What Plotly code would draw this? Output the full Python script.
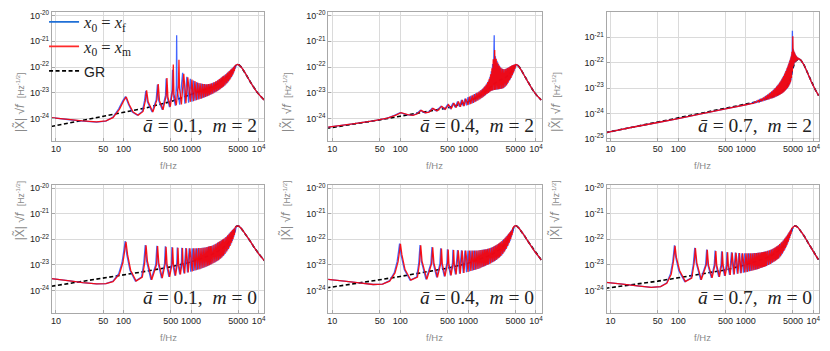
import plotly.graph_objects as go
from plotly.subplots import make_subplots

# ---------------- panel 1 : a=0.1, m=2 ----------------
P1_F_LOW_BLUE = [8.5, 15, 25, 40, 55, 70, 85, 98, 107, 118, 135, 160, 190, 205, 214, 226, 265, 305, 318, 332,
                 375, 418, 428, 442, 480, 522, 532, 545, 585, 606, 612, 620, 680, 750, 810, 865, 920]
P1_Y_LOW_BLUE = [1.1e-24, 9.3e-25, 8.1e-25, 7.4e-25, 8.1e-25, 1.15e-24, 2.4e-24, 5e-24, 7.2e-24, 3.7e-24,
                 1.8e-24, 1.35e-24, 1.9e-24, 5e-24, 1.2e-23, 4.5e-24, 1.8e-24, 5.5e-24, 2.1e-23, 5e-24,
                 2.2e-24, 8e-24, 3.6e-23, 7e-24, 2.8e-24, 1.2e-23, 7.9e-23, 8e-24, 3.2e-24, 2e-23,
                 1.7e-21, 1.5e-23, 3.5e-24, 6e-23, 3.8e-24, 4.2e-23, 4.2e-24]
P1_F_LOW_RED = [8.5, 15, 25, 40, 55, 70, 87, 101, 110, 121, 139, 165, 195, 211, 220, 232, 272, 313, 327, 341,
                385, 429, 440, 454, 493, 535, 546, 558, 605, 650, 662, 675, 720, 780, 840, 895]
P1_Y_LOW_RED = [1.1e-24, 9.4e-25, 8.2e-25, 7.5e-25, 8.2e-25, 1.1e-24, 2.3e-24, 5e-24, 7e-24, 3.6e-24,
                1.8e-24, 1.35e-24, 1.9e-24, 5e-24, 1.25e-23, 4.5e-24, 1.8e-24, 5.5e-24, 2.2e-23, 5e-24,
                2.2e-24, 8e-24, 3.8e-23, 7e-24, 2.9e-24, 1.4e-23, 1.25e-22, 9e-24, 3.3e-24, 2e-23,
                1.9e-22, 1.5e-23, 3.6e-24, 5.5e-23, 4e-24, 4e-23]
P1_F_BAND = [975, 1030, 1085, 1140, 1195, 1250, 1305, 1360, 1415, 1470, 1525, 1580, 1635, 1690, 1745, 1800,
             1855, 1910, 1965, 2020, 2095, 2170, 2245, 2320, 2395, 2470, 2545, 2620, 2695, 2770, 2845, 2920,
             2995, 3070, 3170, 3270, 3370, 3470, 3570, 3670, 3770, 3870, 3970, 4070, 4170, 4270, 4370, 4470]
P1_Y_UPPER = [3.5e-23, 3.3e-23, 3.0e-23, 2.9e-23, 2.6e-23, 2.5e-23, 2.4e-23, 2.35e-23, 2.3e-23, 2.25e-23,
              2.2e-23, 2.2e-23, 2.15e-23, 2.15e-23, 2.15e-23, 2.2e-23, 2.2e-23, 2.25e-23, 2.3e-23, 2.35e-23,
              2.45e-23, 2.55e-23, 2.65e-23, 2.8e-23, 2.9e-23, 3.05e-23, 3.2e-23, 3.4e-23, 3.6e-23, 3.8e-23,
              4.0e-23, 4.25e-23, 4.5e-23, 4.7e-23, 5.0e-23, 5.3e-23, 5.7e-23, 6.1e-23, 6.5e-23, 7.0e-23,
              7.5e-23, 8.0e-23, 8.5e-23, 9.0e-23, 9.6e-23, 1.02e-22, 1.08e-22, 1.12e-22]
P1_Y_LOWER = [4.5e-24, 4.6e-24, 4.8e-24, 5.0e-24, 5.2e-24, 5.4e-24, 5.6e-24, 5.8e-24, 6.0e-24, 6.2e-24,
              6.5e-24, 6.7e-24, 7.0e-24, 7.2e-24, 7.5e-24, 7.7e-24, 8.0e-24, 8.3e-24, 8.6e-24, 8.9e-24,
              9.3e-24, 9.8e-24, 1.03e-23, 1.08e-23, 1.14e-23, 1.2e-23, 1.26e-23, 1.33e-23, 1.4e-23, 1.48e-23,
              1.56e-23, 1.64e-23, 1.72e-23, 1.8e-23, 1.95e-23, 2.1e-23, 2.3e-23, 2.5e-23, 2.75e-23, 3.0e-23,
              3.3e-23, 3.7e-23, 4.1e-23, 4.6e-23, 5.2e-23, 6.0e-23, 7.0e-23, 8.5e-23]
P1_F_TAIL = [4650, 4850, 5100, 5500, 6000, 6700, 7500, 8500, 9500, 10800, 12300]
P1_Y_TAIL = [1.2e-22, 1.26e-22, 1.22e-22, 1.02e-22, 7.4e-23, 4.5e-23, 2.7e-23, 1.6e-23, 1.05e-23, 7.2e-24, 5e-24]
P1_F_GR = [8.5, 20, 50, 100, 200, 500, 1000, 1500, 2000, 2500, 3000, 3500, 4000, 4400]
P1_Y_GR = [5e-25, 7.8e-25, 1.2e-24, 1.7e-24, 2.5e-24, 4.6e-24, 8.5e-24, 1.2e-23, 1.65e-23, 2.3e-23, 3.2e-23,
           4.5e-23, 6.8e-23, 9.8e-23]

# ---------------- panel 2 : a=0.4, m=2 ----------------
P2_F_LOW_BLUE = [8.2, 20, 40, 65, 82, 100, 125, 150, 175, 198, 230, 260, 295, 340, 398, 450, 500, 550, 600,
                 650, 700, 750, 800, 850, 900, 950]
P2_Y_LOW_BLUE = [4.6e-25, 6.3e-25, 8.3e-25, 1.05e-24, 1.35e-24, 1.7e-24, 1.45e-24, 1.35e-24, 1.55e-24, 2.1e-24,
                 1.7e-24, 1.8e-24, 2.5e-24, 2e-24, 3e-24, 2.3e-24, 3.5e-24, 2.5e-24, 4e-24, 2.7e-24,
                 4.6e-24, 2.9e-24, 5.3e-24, 3.1e-24, 6e-24, 3.3e-24]
P2_F_LOW_RED = [8.2, 20, 40, 65, 85, 103, 129, 155, 180, 204, 237, 268, 304, 350, 410, 463, 515, 567, 618,
                670, 721, 773, 824, 876, 927]
P2_Y_LOW_RED = [4.6e-25, 6.3e-25, 8.3e-25, 1.05e-24, 1.35e-24, 1.7e-24, 1.45e-24, 1.35e-24, 1.55e-24, 2.1e-24,
                1.7e-24, 1.8e-24, 2.5e-24, 2e-24, 3e-24, 2.3e-24, 3.5e-24, 2.5e-24, 4e-24, 2.7e-24,
                4.6e-24, 2.9e-24, 5.3e-24, 3.1e-24, 6e-24]
P2_F_BAND = [1000, 1050, 1100, 1150, 1200, 1250, 1300, 1350, 1400, 1450, 1500, 1550, 1600, 1650, 1700, 1750,
             1800, 1850, 1900, 1950, 2000, 2050, 2100, 2150, 2200, 2250, 2300, 2350, 2430, 2470, 2530, 2600,
             2670, 2740, 2810, 2880, 2950, 3030, 3120, 3210, 3300, 3400, 3500, 3600, 3700, 3800, 3900, 4000,
             4100, 4200, 4300, 4400, 4500, 4600, 4700, 4800, 4900, 5000]
P2_Y_UPPER = [6.8e-24, 7.2e-24, 7.6e-24, 8.0e-24, 8.5e-24, 9.0e-24, 9.5e-24, 1.0e-23, 1.06e-23, 1.12e-23,
              1.2e-23, 1.28e-23, 1.37e-23, 1.47e-23, 1.6e-23, 1.75e-23, 1.9e-23, 2.1e-23, 2.35e-23, 2.65e-23,
              3.0e-23, 3.5e-23, 4.2e-23, 5.2e-23, 6.8e-23, 9.0e-23, 1.3e-22, 2.0e-22, 1.7e-21, 4.6e-22,
              2.6e-22, 2.1e-22, 1.75e-22, 1.5e-22, 1.3e-22, 1.15e-22, 1.05e-22, 9.6e-23, 9.0e-23, 8.6e-23,
              8.3e-23, 8.2e-23, 8.3e-23, 8.5e-23, 8.8e-23, 9.1e-23, 9.5e-23, 9.9e-23, 1.03e-22, 1.07e-22,
              1.1e-22, 1.14e-22, 1.17e-22, 1.2e-22, 1.22e-22, 1.24e-22, 1.25e-22, 1.26e-22]
P2_Y_LOWER = [3.4e-24, 3.55e-24, 3.7e-24, 3.9e-24, 4.1e-24, 4.35e-24, 4.6e-24, 4.85e-24, 5.1e-24, 5.4e-24,
              5.7e-24, 6.05e-24, 6.4e-24, 6.8e-24, 7.2e-24, 7.65e-24, 8.1e-24, 8.6e-24, 9.1e-24, 9.6e-24,
              1.0e-23, 1.05e-23, 1.1e-23, 1.15e-23, 1.2e-23, 1.23e-23, 1.25e-23, 1.27e-23, 1.3e-23, 1.31e-23,
              1.32e-23, 1.33e-23, 1.35e-23, 1.36e-23, 1.38e-23, 1.39e-23, 1.4e-23, 1.42e-23, 1.45e-23, 1.47e-23,
              1.5e-23, 1.6e-23, 1.7e-23, 1.85e-23, 2.0e-23, 2.2e-23, 2.5e-23, 2.8e-23, 3.1e-23, 3.4e-23,
              3.8e-23, 4.3e-23, 4.8e-23, 5.5e-23, 6.2e-23, 7.3e-23, 8.5e-23, 1.0e-22]
P2_F_TAIL = [5150, 5350, 5700, 6200, 6900, 7800, 8900, 10200, 12000]
P2_Y_TAIL = [1.25e-22, 1.2e-22, 1.0e-22, 7e-23, 4.2e-23, 2.4e-23, 1.35e-23, 8.2e-24, 5.3e-24]
P2_F_GR = [8.2, 20, 50, 100, 200, 500, 1000, 1500, 2000, 2500, 3000, 3500, 4000, 4500, 4800, 5000]
P2_Y_GR = [4.2e-25, 6e-25, 9e-25, 1.25e-24, 1.7e-24, 2.6e-24, 4.5e-24, 7.5e-24, 1.4e-23, 2.4e-23, 3.2e-23,
           3.8e-23, 5e-23, 7.5e-23, 9.5e-23, 1.12e-22]

# ---------------- panel 3 : a=0.7, m=2 ----------------
P3_F_LOW = [8.4, 20, 50, 100, 200, 500, 1000, 1200]
P3_Y_LOW = [1.75e-25, 2.8e-25, 4.4e-25, 6.3e-25, 9.2e-25, 1.5e-24, 2.2e-24, 2.45e-24]
P3_F_BAND = [1300, 1375, 1450, 1525, 1600, 1675, 1750, 1825, 1900, 1975, 2050, 2125, 2200, 2275, 2350, 2425,
             2500, 2575, 2650, 2725, 2800, 2875, 2950, 3025, 3100, 3175, 3250, 3325, 3400, 3475, 3550, 3625,
             3700, 3775, 3850, 3925, 4000, 4075, 4150, 4225, 4300, 4375, 4450, 4525, 4600, 4675, 4750, 4825,
             4900, 4975, 5050, 5125, 5200, 5275, 5350, 5425, 5500, 5575, 5650, 5725, 5800, 5875, 5950]
P3_Y_UPPER = [2.7e-24, 2.9e-24, 3.1e-24, 3.3e-24, 3.5e-24, 3.8e-24, 4.0e-24, 4.3e-24, 4.6e-24, 4.9e-24,
              5.2e-24, 5.6e-24, 6.0e-24, 6.4e-24, 6.9e-24, 7.4e-24, 8.0e-24, 8.6e-24, 9.3e-24, 1.0e-23,
              1.08e-23, 1.17e-23, 1.27e-23, 1.38e-23, 1.5e-23, 1.64e-23, 1.8e-23, 1.98e-23, 2.2e-23, 2.45e-23,
              2.7e-23, 3.0e-23, 3.35e-23, 3.75e-23, 4.2e-23, 4.7e-23, 5.3e-23, 6.0e-23, 6.8e-23, 7.7e-23,
              8.8e-23, 1.0e-22, 1.15e-22, 1.3e-22, 1.5e-22, 1.75e-22, 2.1e-22, 2.7e-22, 1.8e-21, 1.1e-21,
              3.5e-22, 3.0e-22, 2.7e-22, 2.5e-22, 2.3e-22, 2.1e-22, 1.95e-22, 1.85e-22, 1.75e-22, 1.68e-22,
              1.6e-22, 1.55e-22, 1.5e-22]
P3_Y_LOWER = [2.5e-24, 2.6e-24, 2.7e-24, 2.75e-24, 2.85e-24, 2.95e-24, 3.0e-24, 3.1e-24, 3.2e-24, 3.3e-24,
              3.4e-24, 3.5e-24, 3.6e-24, 3.7e-24, 3.8e-24, 3.9e-24, 4.0e-24, 4.1e-24, 4.25e-24, 4.4e-24,
              4.55e-24, 4.7e-24, 4.85e-24, 5.0e-24, 5.2e-24, 5.4e-24, 5.6e-24, 5.8e-24, 6.0e-24, 6.3e-24,
              6.6e-24, 6.9e-24, 7.2e-24, 7.6e-24, 8.0e-24, 8.4e-24, 8.9e-24, 9.4e-24, 1.0e-23, 1.07e-23,
              1.15e-23, 1.25e-23, 1.37e-23, 1.5e-23, 1.7e-23, 2.0e-23, 2.5e-23, 3.3e-23, 4.5e-23, 6.0e-23,
              7.2e-23, 8.2e-23, 9.0e-23, 9.7e-23, 1.03e-22, 1.08e-22, 1.12e-22, 1.16e-22, 1.19e-22, 1.22e-22,
              1.25e-22, 1.28e-22, 1.3e-22]
P3_F_TAIL = [6100, 6600, 7300, 8200, 9300, 10600, 12000]
P3_Y_TAIL = [1.45e-22, 1.22e-22, 8e-23, 4e-23, 1.8e-23, 9e-24, 5e-24]
P3_F_GR = [8.4, 20, 50, 100, 200, 500, 1000, 1500, 2000, 2500, 3000, 3500, 4000, 4500, 4800, 5000, 5300, 5700]
P3_Y_GR = [1.75e-25, 2.8e-25, 4.4e-25, 6.3e-25, 9.2e-25, 1.5e-24, 2.2e-24, 2.9e-24, 3.7e-24, 4.6e-24, 5.8e-24,
           7.8e-24, 1.15e-23, 2.1e-23, 4e-23, 7e-23, 1.05e-22, 1.25e-22]

# ---------------- panel 4 : a=0.1, m=0 ----------------
P4_F_LOW_BLUE = [8.6, 15, 25, 40, 55, 70, 85, 95, 102, 106, 112, 125, 150, 185, 200, 210, 220, 255, 300, 312,
                 325, 365, 405, 416, 430, 470, 512, 521, 535, 575, 615, 625, 640, 680, 720, 729, 745, 785, 833,
                 885, 937, 990]
P4_Y_LOW_BLUE = [2.9e-24, 2.4e-24, 2e-24, 1.8e-24, 1.85e-24, 2.3e-24, 4.5e-24, 1.2e-23, 4e-23, 8.5e-23,
                 2.5e-23, 6e-24, 2.3e-24, 3.3e-24, 1.2e-23, 6e-23, 1.4e-23, 2.6e-24, 1e-23, 5.6e-23,
                 1.2e-23, 3e-24, 1.1e-23, 5.3e-23, 1.1e-23, 3.4e-24, 1.1e-23, 5e-23, 1.1e-23, 3.8e-24,
                 1.2e-23, 4.8e-23, 1.1e-23, 4.2e-24, 1.3e-23, 4.6e-23, 1.2e-23, 4.6e-24, 4.5e-23, 5e-24,
                 4.4e-23, 5.4e-24]
P4_F_LOW_RED = [8.6, 15, 25, 40, 55, 70, 87, 98, 105, 109, 115, 128, 154, 190, 206, 216, 226, 262, 308, 320,
                333, 375, 415, 427, 441, 482, 524, 534, 548, 590, 630, 641, 655, 697, 737, 747, 762, 805, 855,
                908, 962]
P4_Y_LOW_RED = [2.9e-24, 2.4e-24, 2e-24, 1.8e-24, 1.85e-24, 2.2e-24, 4.3e-24, 1.2e-23, 4e-23, 8e-23,
                2.5e-23, 6e-24, 2.3e-24, 3.3e-24, 1.2e-23, 5.8e-23, 1.4e-23, 2.6e-24, 1e-23, 5.4e-23,
                1.2e-23, 3e-24, 1.1e-23, 5.1e-23, 1.1e-23, 3.4e-24, 1.1e-23, 4.8e-23, 1.1e-23, 3.8e-24,
                1.2e-23, 4.6e-23, 1.1e-23, 4.2e-24, 1.3e-23, 4.5e-23, 1.2e-23, 4.6e-24, 4.4e-23, 5e-24,
                4.4e-23]
P4_F_BAND = [1040, 1092, 1144, 1196, 1248, 1300, 1352, 1404, 1456, 1508, 1560, 1612, 1664, 1716, 1768, 1820,
             1872, 1924, 1976, 2028, 2103, 2178, 2253, 2328, 2403, 2478, 2553, 2628, 2703, 2778, 2853, 2928,
             3003, 3078, 3178, 3278, 3378, 3478, 3578, 3678, 3778, 3878, 3978, 4078, 4178, 4278, 4378, 4478]
P4_Y_UPPER = [4.4e-23, 4.4e-23, 4.4e-23, 4.4e-23, 4.45e-23, 4.5e-23, 4.5e-23, 4.55e-23, 4.6e-23, 4.6e-23,
              4.7e-23, 4.8e-23, 4.9e-23, 5.0e-23, 5.1e-23, 5.2e-23, 5.3e-23, 5.4e-23, 5.5e-23, 5.6e-23,
              5.85e-23, 6.1e-23, 6.4e-23, 6.7e-23, 7.0e-23, 7.4e-23, 7.8e-23, 8.2e-23, 8.6e-23, 9.0e-23,
              9.4e-23, 9.8e-23, 1.02e-22, 1.07e-22, 1.14e-22, 1.22e-22, 1.32e-22, 1.43e-22, 1.55e-22, 1.68e-22,
              1.82e-22, 1.97e-22, 2.12e-22, 2.28e-22, 2.45e-22, 2.6e-22, 2.75e-22, 2.9e-22]
P4_Y_LOWER = [5.5e-24, 5.7e-24, 6.0e-24, 6.2e-24, 6.4e-24, 6.6e-24, 6.8e-24, 7.0e-24, 7.3e-24, 7.5e-24,
              7.8e-24, 8.1e-24, 8.4e-24, 8.7e-24, 9.0e-24, 9.4e-24, 9.7e-24, 1.0e-23, 1.03e-23, 1.07e-23,
              1.12e-23, 1.18e-23, 1.24e-23, 1.3e-23, 1.37e-23, 1.45e-23, 1.53e-23, 1.62e-23, 1.72e-23, 1.83e-23,
              1.95e-23, 2.1e-23, 2.25e-23, 2.4e-23, 2.65e-23, 2.95e-23, 3.3e-23, 3.7e-23, 4.2e-23, 4.8e-23,
              5.5e-23, 6.3e-23, 7.3e-23, 8.5e-23, 1.0e-22, 1.2e-22, 1.45e-22, 1.8e-22]
P4_F_TAIL = [4650, 4850, 5100, 5500, 6000, 6700, 7500, 8500, 9700, 11000, 12300]
P4_Y_TAIL = [3.15e-22, 3.35e-22, 3.25e-22, 2.7e-22, 2e-22, 1.3e-22, 8.5e-23, 5e-23, 3e-23, 2e-23, 1.4e-23]
P4_F_GR = [8.6, 20, 50, 100, 200, 500, 1000, 1500, 2000, 2500, 3000, 3500, 4000, 4400]
P4_Y_GR = [1.45e-24, 2.05e-24, 3e-24, 4e-24, 5.4e-24, 8.3e-24, 1.3e-23, 1.85e-23, 2.5e-23, 3.4e-23, 4.7e-23,
           7e-23, 1.2e-22, 2.1e-22]

# ---------------- panel 5 : a=0.4, m=0 ----------------
P5_F_LOW_BLUE = [8.2, 15, 25, 40, 55, 70, 82, 90, 95, 98, 103, 115, 140, 175, 188, 196, 205, 240, 283, 294,
                 306, 345, 385, 395, 407, 447, 488, 497, 510, 550, 590, 599, 612, 652, 700, 750, 800, 850, 900, 950]
P5_Y_LOW_BLUE = [2.75e-24, 2.3e-24, 1.95e-24, 1.7e-24, 1.75e-24, 2.4e-24, 5e-24, 1.3e-23, 3.5e-23, 6.8e-23,
                 2.5e-23, 6.5e-24, 2.5e-24, 3.3e-24, 1.2e-23, 6e-23, 1.4e-23, 2.7e-24, 1.1e-23, 5e-23,
                 1.2e-23, 3.2e-24, 1.1e-23, 4.4e-23, 1.1e-23, 3.5e-24, 1.2e-23, 4.1e-23, 1.1e-23, 3.9e-24,
                 1.2e-23, 3.9e-23, 1.1e-23, 4.2e-24, 3.8e-23, 4.5e-24, 3.7e-23, 4.8e-24, 3.6e-23, 5.1e-24]
P5_F_LOW_RED = [8.2, 15, 25, 40, 55, 70, 84, 93, 98, 101, 106, 118, 144, 180, 193, 201, 210, 247, 290, 302,
                314, 354, 395, 406, 418, 458, 500, 510, 523, 563, 604, 614, 627, 668, 718, 768, 820, 870, 925]
P5_Y_LOW_RED = [2.75e-24, 2.3e-24, 1.95e-24, 1.7e-24, 1.75e-24, 2.3e-24, 4.8e-24, 1.3e-23, 3.5e-23, 6.6e-23,
                2.5e-23, 6.5e-24, 2.5e-24, 3.3e-24, 1.2e-23, 5.8e-23, 1.4e-23, 2.7e-24, 1.1e-23, 4.9e-23,
                1.2e-23, 3.2e-24, 1.1e-23, 4.3e-23, 1.1e-23, 3.5e-24, 1.2e-23, 4e-23, 1.1e-23, 3.9e-24,
                1.2e-23, 3.8e-23, 1.1e-23, 4.2e-24, 3.7e-23, 4.5e-24, 3.6e-23, 4.8e-24, 3.6e-23]
P5_F_BAND = [1000, 1050, 1100, 1150, 1200, 1250, 1300, 1350, 1400, 1450, 1500, 1550, 1600, 1650, 1700, 1750,
             1800, 1850, 1900, 1950, 2000, 2075, 2150, 2225, 2300, 2375, 2450, 2525, 2600, 2675, 2750, 2825,
             2900, 2975, 3050, 3150, 3250, 3350, 3450, 3550, 3650, 3750, 3850, 3950, 4050, 4150, 4250, 4350,
             4450, 4550]
P5_Y_UPPER = [3.6e-23, 3.6e-23, 3.6e-23, 3.6e-23, 3.6e-23, 3.6e-23, 3.6e-23, 3.6e-23, 3.65e-23, 3.7e-23,
              3.75e-23, 3.8e-23, 3.85e-23, 3.9e-23, 3.95e-23, 4.0e-23, 4.05e-23, 4.1e-23, 4.15e-23, 4.2e-23,
              4.3e-23, 4.45e-23, 4.6e-23, 4.8e-23, 5.0e-23, 5.2e-23, 5.4e-23, 5.65e-23, 5.9e-23, 6.2e-23,
              6.5e-23, 6.85e-23, 7.2e-23, 7.6e-23, 8.0e-23, 8.6e-23, 9.3e-23, 1.0e-22, 1.08e-22, 1.17e-22,
              1.27e-22, 1.38e-22, 1.5e-22, 1.63e-22, 1.77e-22, 1.92e-22, 2.08e-22, 2.25e-22, 2.45e-22, 2.65e-22]
P5_Y_LOWER = [5.3e-24, 5.5e-24, 5.7e-24, 5.9e-24, 6.1e-24, 6.3e-24, 6.5e-24, 6.7e-24, 6.9e-24, 7.1e-24,
              7.4e-24, 7.7e-24, 8.0e-24, 8.3e-24, 8.6e-24, 8.9e-24, 9.2e-24, 9.5e-24, 9.8e-24, 1.01e-23,
              1.04e-23, 1.09e-23, 1.14e-23, 1.2e-23, 1.26e-23, 1.32e-23, 1.39e-23, 1.46e-23, 1.54e-23, 1.63e-23,
              1.73e-23, 1.84e-23, 1.96e-23, 2.08e-23, 2.2e-23, 2.4e-23, 2.65e-23, 2.95e-23, 3.3e-23, 3.7e-23,
              4.2e-23, 4.8e-23, 5.5e-23, 6.3e-23, 7.3e-23, 8.5e-23, 1.0e-22, 1.2e-22, 1.45e-22, 1.8e-22]
P5_F_TAIL = [4750, 4950, 5200, 5600, 6100, 6800, 7600, 8600, 9800, 11000, 12000]
P5_Y_TAIL = [3.15e-22, 3.4e-22, 3.3e-22, 2.75e-22, 2.05e-22, 1.35e-22, 8.5e-23, 5.2e-23, 3.1e-23, 2.1e-23, 1.55e-23]
P5_F_GR = [8.2, 20, 50, 100, 200, 500, 1000, 1500, 2000, 2500, 3000, 3500, 4000, 4500]
P5_Y_GR = [1.25e-24, 1.75e-24, 2.6e-24, 3.5e-24, 4.8e-24, 7.4e-24, 1.15e-23, 1.65e-23, 2.2e-23, 3e-23, 4.2e-23,
           6.3e-23, 1.1e-22, 2.1e-22]

# ---------------- panel 6 : a=0.7, m=0 ----------------
P6_F_LOW_BLUE = [8.4, 15, 25, 40, 55, 68, 77, 83, 86, 88, 92, 102, 125, 155, 168, 176, 185, 215, 255, 264,
                 275, 310, 342, 352, 363, 398, 430, 440, 452, 485, 517, 527, 540, 575, 615, 660, 703, 748, 790,
                 835, 878, 922]
P6_Y_LOW_BLUE = [2.05e-24, 1.75e-24, 1.5e-24, 1.3e-24, 1.4e-24, 2e-24, 4.5e-24, 1.3e-23, 3e-23, 5.8e-23,
                 2e-23, 6e-24, 2.2e-24, 3e-24, 1.1e-23, 4.6e-23, 1.2e-23, 2.6e-24, 1e-23, 4e-23,
                 1e-23, 3.1e-24, 1e-23, 3.6e-23, 1e-23, 3.4e-24, 1e-23, 3.4e-23, 1e-23, 3.7e-24,
                 1e-23, 3.2e-23, 1e-23, 4e-24, 3.1e-23, 4.2e-24, 3e-23, 4.5e-24, 2.9e-23, 4.7e-24,
                 2.85e-23, 4.9e-24]
P6_F_LOW_RED = [8.4, 15, 25, 40, 55, 68, 79, 85, 88, 90, 94, 105, 128, 159, 172, 180, 189, 220, 261, 270,
                281, 318, 350, 361, 372, 408, 441, 451, 463, 497, 530, 540, 553, 590, 630, 676, 720, 766, 810,
                855, 900]
P6_Y_LOW_RED = [2.05e-24, 1.75e-24, 1.5e-24, 1.3e-24, 1.4e-24, 1.9e-24, 4.3e-24, 1.3e-23, 3e-23, 5.6e-23,
                2e-23, 6e-24, 2.2e-24, 3e-24, 1.1e-23, 4.5e-23, 1.2e-23, 2.6e-24, 1e-23, 3.9e-23,
                1e-23, 3.1e-24, 1e-23, 3.5e-23, 1e-23, 3.4e-24, 1e-23, 3.3e-23, 1e-23, 3.7e-24,
                1e-23, 3.1e-23, 1e-23, 4e-24, 3e-23, 4.2e-24, 2.95e-23, 4.5e-24, 2.9e-23, 4.7e-24,
                2.85e-23]
P6_F_BAND = [965, 1009, 1053, 1097, 1141, 1185, 1229, 1273, 1317, 1361, 1405, 1449, 1493, 1537, 1581, 1625,
             1669, 1713, 1757, 1801, 1845, 1889, 1933, 1977, 2021, 2096, 2171, 2246, 2321, 2396, 2471, 2546,
             2621, 2696, 2771, 2846, 2921, 2996, 3071, 3171, 3271, 3371, 3471, 3571, 3671, 3771, 3871, 3971,
             4071, 4171, 4271, 4371, 4471, 4571, 4671, 4771]
P6_Y_UPPER = [2.85e-23, 2.85e-23, 2.85e-23, 2.85e-23, 2.85e-23, 2.85e-23, 2.85e-23, 2.85e-23, 2.87e-23, 2.88e-23,
              2.9e-23, 2.92e-23, 2.95e-23, 2.97e-23, 3.0e-23, 3.03e-23, 3.06e-23, 3.1e-23, 3.14e-23, 3.18e-23,
              3.22e-23, 3.26e-23, 3.3e-23, 3.35e-23, 3.4e-23, 3.5e-23, 3.6e-23, 3.7e-23, 3.85e-23, 4.0e-23,
              4.15e-23, 4.3e-23, 4.5e-23, 4.7e-23, 4.9e-23, 5.15e-23, 5.4e-23, 5.7e-23, 6.0e-23, 6.5e-23,
              7.0e-23, 7.6e-23, 8.2e-23, 8.9e-23, 9.7e-23, 1.06e-22, 1.16e-22, 1.27e-22, 1.4e-22, 1.54e-22,
              1.7e-22, 1.88e-22, 2.05e-22, 2.25e-22, 2.45e-22, 2.65e-22]
P6_Y_LOWER = [5.0e-24, 5.15e-24, 5.3e-24, 5.45e-24, 5.6e-24, 5.75e-24, 5.9e-24, 6.05e-24, 6.2e-24, 6.35e-24,
              6.5e-24, 6.65e-24, 6.8e-24, 6.95e-24, 7.1e-24, 7.3e-24, 7.5e-24, 7.7e-24, 7.9e-24, 8.1e-24,
              8.3e-24, 8.5e-24, 8.7e-24, 8.9e-24, 9.1e-24, 9.5e-24, 9.9e-24, 1.04e-23, 1.09e-23, 1.14e-23,
              1.2e-23, 1.26e-23, 1.32e-23, 1.39e-23, 1.46e-23, 1.54e-23, 1.62e-23, 1.7e-23, 1.78e-23, 1.95e-23,
              2.15e-23, 2.4e-23, 2.7e-23, 3.05e-23, 3.45e-23, 3.9e-23, 4.45e-23, 5.1e-23, 5.9e-23, 6.9e-23,
              8.1e-23, 9.6e-23, 1.14e-22, 1.35e-22, 1.6e-22, 1.9e-22]
P6_F_TAIL = [5000, 5300, 5600, 6000, 6600, 7300, 8200, 9300, 10500, 11900]
P6_Y_TAIL = [2.95e-22, 3.35e-22, 3.25e-22, 2.8e-22, 2e-22, 1.35e-22, 8e-23, 4.6e-23, 2.7e-23, 1.6e-23]
P6_F_GR = [8.4, 20, 50, 100, 200, 500, 1000, 1500, 2000, 2500, 3000, 3500, 4000, 4500]
P6_Y_GR = [1.2e-24, 1.6e-24, 2.3e-24, 3.1e-24, 4.2e-24, 6.3e-24, 1e-23, 1.4e-23, 1.85e-23, 2.45e-23, 3.4e-23,
           5e-23, 8e-23, 1.5e-22]

LABELS = ['<i>ā</i> = 0.1,  <i>m</i> = 2', '<i>ā</i> = 0.4,  <i>m</i> = 2', '<i>ā</i> = 0.7,  <i>m</i> = 2',
          '<i>ā</i> = 0.1,  <i>m</i> = 0', '<i>ā</i> = 0.4,  <i>m</i> = 0', '<i>ā</i> = 0.7,  <i>m</i> = 0']
X_TICKS = [10, 50, 100, 500, 1000, 5000, 10000]
X_TICKTEXT = ['10', '50', '100', '500', '1000', '5000', '10<sup>4</sup>']
Y_EXPONENTS = [-25, -24, -23, -22, -21, -20]

BLUE = 'rgba(35, 75, 255, 0.85)'
RED = 'rgba(255, 0, 0, 0.9)'
LINE_W = 1.3


def zigzag(upper, lower, peak_first):
    # alternate between the read peak and trough values on the band grid
    return [hi if (i % 2 == 0) == peak_first else lo
            for i, (hi, lo) in enumerate(zip(upper, lower))]


panels = [
    dict(blue=(P1_F_LOW_BLUE, P1_Y_LOW_BLUE), red=(P1_F_LOW_RED, P1_Y_LOW_RED),
         band=(P1_F_BAND, P1_Y_UPPER, P1_Y_LOWER), tail=(P1_F_TAIL, P1_Y_TAIL),
         gr=(P1_F_GR, P1_Y_GR), yr=[-24.85, -19.88]),
    dict(blue=(P2_F_LOW_BLUE, P2_Y_LOW_BLUE), red=(P2_F_LOW_RED, P2_Y_LOW_RED),
         band=(P2_F_BAND, P2_Y_UPPER, P2_Y_LOWER), tail=(P2_F_TAIL, P2_Y_TAIL),
         gr=(P2_F_GR, P2_Y_GR), yr=[-24.85, -19.88]),
    dict(blue=(P3_F_LOW, P3_Y_LOW), red=(P3_F_LOW, P3_Y_LOW),
         band=(P3_F_BAND, P3_Y_UPPER, P3_Y_LOWER), tail=(P3_F_TAIL, P3_Y_TAIL),
         gr=(P3_F_GR, P3_Y_GR), yr=[-25.07, -20.02]),
    dict(blue=(P4_F_LOW_BLUE, P4_Y_LOW_BLUE), red=(P4_F_LOW_RED, P4_Y_LOW_RED),
         band=(P4_F_BAND, P4_Y_UPPER, P4_Y_LOWER), tail=(P4_F_TAIL, P4_Y_TAIL),
         gr=(P4_F_GR, P4_Y_GR), yr=[-24.87, -19.87]),
    dict(blue=(P5_F_LOW_BLUE, P5_Y_LOW_BLUE), red=(P5_F_LOW_RED, P5_Y_LOW_RED),
         band=(P5_F_BAND, P5_Y_UPPER, P5_Y_LOWER), tail=(P5_F_TAIL, P5_Y_TAIL),
         gr=(P5_F_GR, P5_Y_GR), yr=[-24.87, -19.87]),
    dict(blue=(P6_F_LOW_BLUE, P6_Y_LOW_BLUE), red=(P6_F_LOW_RED, P6_Y_LOW_RED),
         band=(P6_F_BAND, P6_Y_UPPER, P6_Y_LOWER), tail=(P6_F_TAIL, P6_Y_TAIL),
         gr=(P6_F_GR, P6_Y_GR), yr=[-24.87, -19.87]),
]

X_DOMAINS = [[0.0614, 0.3181], [0.3952, 0.6530], [0.7313, 0.9880]]
Y_DOMAINS = [[0.6011, 0.9729], [0.1026, 0.4729]]

fig = make_subplots(rows=2, cols=3)

for k, p in enumerate(panels):
    row, col = k // 3 + 1, k % 3 + 1
    fb, fu, fl = p['band']
    ft, yt = p['tail']
    blue_f = list(p['blue'][0]) + fb + ft
    blue_y = list(p['blue'][1]) + zigzag(fu, fl, True) + yt
    red_f = list(p['red'][0]) + fb + ft
    red_y = list(p['red'][1]) + zigzag(fu, fl, False) + yt
    gr_f = list(p['gr'][0]) + ft
    gr_y = list(p['gr'][1]) + yt

    # GR underneath, then the two simulated curves
    fig.add_trace(go.Scatter(x=gr_f, y=gr_y, mode='lines', showlegend=False,
                             line=dict(color='black', width=1.6, dash='4px,2.5px')), row=row, col=col)
    fig.add_trace(go.Scatter(x=blue_f, y=blue_y, mode='lines', showlegend=False,
                             line=dict(color=BLUE, width=LINE_W, simplify=False)), row=row, col=col)
    fig.add_trace(go.Scatter(x=red_f, y=red_y, mode='lines', showlegend=False,
                             line=dict(color=RED, width=LINE_W, simplify=False)), row=row, col=col)

    lo, hi = p['yr']
    yt_vals = [10.0 ** e for e in Y_EXPONENTS if lo <= e <= hi]
    yt_text = ['10<sup>%d</sup>' % e for e in Y_EXPONENTS if lo <= e <= hi]
    fig.update_xaxes(type='log', range=[0.94, 4.085], domain=X_DOMAINS[col - 1],
                     tickvals=X_TICKS, ticktext=X_TICKTEXT, row=row, col=col)
    fig.update_yaxes(type='log', range=p['yr'], domain=Y_DOMAINS[row - 1],
                     tickvals=yt_vals, ticktext=yt_text, row=row, col=col)

    suffix = '' if k == 0 else str(k + 1)
    fig.add_annotation(text=LABELS[k], xref='x%s domain' % suffix, yref='y%s domain' % suffix,
                       x=0.975, y=0.02, xanchor='right', yanchor='bottom', showarrow=False,
                       font=dict(family='Liberation Serif', size=19.5, color='#222'))

# legend entries
fig.add_trace(go.Scatter(x=[None], y=[None], mode='lines', name='<i>x</i><sub>0</sub> = <i>x</i><sub>f</sub>',
                         line=dict(color='#1f6fd6', width=1.8)))
fig.add_trace(go.Scatter(x=[None], y=[None], mode='lines', name='<i>x</i><sub>0</sub> = <i>x</i><sub>m</sub>',
                         line=dict(color='#ff2a2a', width=1.8)))
fig.add_trace(go.Scatter(x=[None], y=[None], mode='lines',
                         name='<span style="font-family:Liberation Sans;font-size:14px">GR</span>',
                         line=dict(color='black', width=1.6, dash='4px,2.5px')))

fig.update_xaxes(showgrid=True, gridcolor='#dadada', gridwidth=1, showline=True, mirror=True,
                 linecolor='#a8a8a8', linewidth=1, ticks='inside', ticklen=3, tickcolor='#a8a8a8',
                 tickfont=dict(family='Liberation Sans', size=9, color='#222'), zeroline=False)
fig.update_yaxes(showgrid=True, gridcolor='#dadada', gridwidth=1, showline=True, mirror=True,
                 linecolor='#a8a8a8', linewidth=1, ticks='inside', ticklen=3, tickcolor='#a8a8a8',
                 tickfont=dict(family='Liberation Sans', size=9, color='#222'), zeroline=False)

# axis titles
title_x = [9, 286, 565]
for r in range(2):
    yc = (Y_DOMAINS[r][0] + Y_DOMAINS[r][1]) / 2 + 0.02
    for c in range(3):
        fig.add_annotation(text='|X̃| √<i>f</i>  <span style="font-size:8.5px">[Hz<sup>-1/2</sup>]</span>',
                           xref='paper', yref='paper', x=title_x[c] / 830, y=yc, textangle=-90,
                           showarrow=False, font=dict(family='Liberation Sans', size=12, color='#8a8a8a'))
        fig.add_annotation(text='f/Hz', xref='paper', yref='paper',
                           x=(X_DOMAINS[c][0] + X_DOMAINS[c][1]) / 2,
                           y=Y_DOMAINS[r][0] - 0.072, yanchor='middle', showarrow=False,
                           font=dict(family='Liberation Sans', size=9.5, color='#8a8a8a'))

fig.update_layout(
    width=830, height=351, margin=dict(l=0, r=0, t=0, b=0),
    paper_bgcolor='white', plot_bgcolor='white',
    showlegend=True,
    legend=dict(x=0.052, y=0.995, xanchor='left', yanchor='top', bgcolor='rgba(0,0,0,0)',
                font=dict(family='Liberation Serif', size=16.5, color='#222'), tracegroupgap=0),
)

fig.write_html("out.html", config={'displayModeBar': False},
               post_script="document.body.style.margin='0px';")
